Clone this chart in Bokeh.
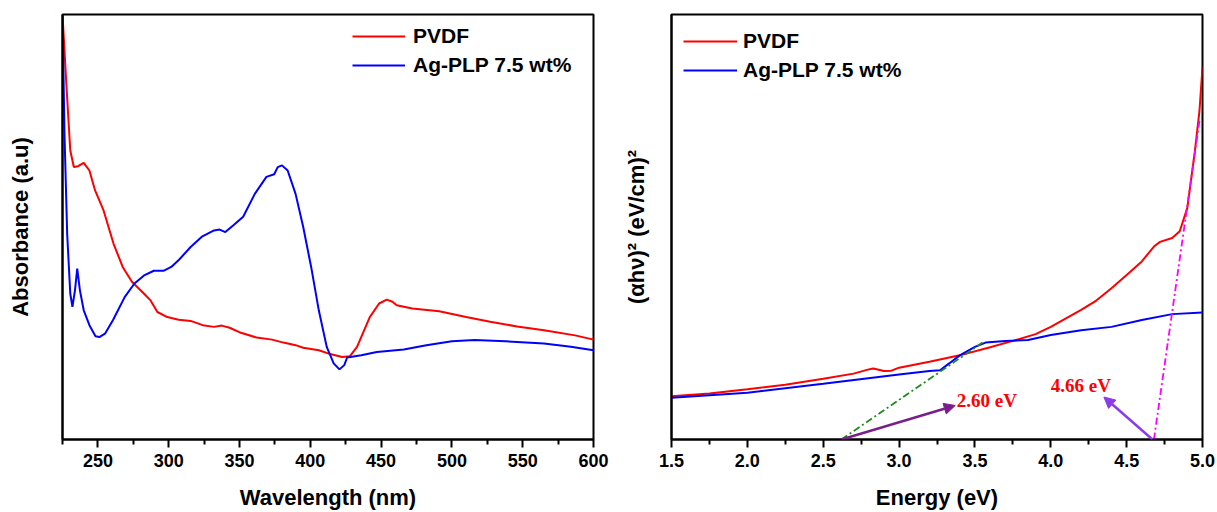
from bokeh.plotting import figure
from bokeh.layouts import row
from bokeh.models import (Range1d, Legend, LegendItem, Label, Arrow, NormalHead,
                          FixedTicker, ColumnDataSource)
from bokeh.embed import file_html
from bokeh.resources import INLINE
from bokeh.core.properties import value

# ---------------- Panel a: UV-Vis absorbance ----------------
wl_pvdf = [225, 227.7, 230.5, 233, 236, 240, 244, 248, 254, 261, 267.5, 274, 282.6, 287,
           292, 299, 307, 315.5, 324, 332, 337.5, 343, 351, 362, 373, 381, 389.6, 395,
           406, 414, 422.5, 428, 433, 442, 448.6, 454, 458, 461, 472, 491, 510, 527,
           546, 565, 587, 600]
abs_pvdf = [1.000, 0.837, 0.680, 0.641, 0.643, 0.651, 0.633, 0.586, 0.539, 0.461, 0.406,
            0.371, 0.343, 0.328, 0.300, 0.288, 0.282, 0.279, 0.269, 0.265, 0.268, 0.263,
            0.251, 0.240, 0.235, 0.228, 0.222, 0.216, 0.210, 0.201, 0.194, 0.196, 0.218,
            0.288, 0.320, 0.329, 0.324, 0.316, 0.308, 0.302, 0.288, 0.277, 0.266, 0.257,
            0.245, 0.235]

wl_ag = [225, 226.4, 228.3, 230.5, 232, 233.8, 235.4, 237.3, 240, 244, 248.3, 251, 255,
         260.7, 268.9, 275.8, 282.6, 289.5, 296.3, 301.8, 307.3, 315.5, 323.8, 332, 336,
         340, 345.7, 352.6, 360.8, 369, 374.5, 377, 380, 384, 389.6, 395, 400.6, 406,
         411.6, 416.5, 420.6, 424, 426, 436, 447, 466, 482, 500, 516, 538, 565, 584, 600]
abs_ag = [1.000, 0.719, 0.484, 0.343, 0.312, 0.351, 0.402, 0.351, 0.304, 0.269, 0.243,
          0.241, 0.249, 0.281, 0.335, 0.367, 0.386, 0.397, 0.397, 0.406, 0.423, 0.453,
          0.478, 0.492, 0.494, 0.488, 0.504, 0.524, 0.578, 0.618, 0.624, 0.641, 0.645,
          0.633, 0.578, 0.500, 0.406, 0.304, 0.218, 0.179, 0.165, 0.175, 0.193, 0.198,
          0.206, 0.212, 0.222, 0.231, 0.234, 0.231, 0.226, 0.218, 0.210]

wl_ticks = [250, 300, 350, 400, 450, 500, 550, 600]
wl_minor = [225, 275, 325, 375, 425, 475, 525, 575]

# ---------------- Panel b: Tauc plot ----------------
e_pvdf = [1.5, 1.75, 2.0, 2.25, 2.5, 2.7, 2.8, 2.83, 2.9, 2.95, 3.0, 3.2, 3.4, 3.6, 3.75,
          3.9, 4.0, 4.1, 4.2, 4.3, 4.4, 4.5, 4.6, 4.68, 4.72, 4.8, 4.85, 4.9, 4.95, 4.98, 5.0]
t_pvdf = [0.102, 0.108, 0.118, 0.129, 0.143, 0.155, 0.165, 0.167, 0.161, 0.162, 0.169,
          0.183, 0.198, 0.217, 0.232, 0.248, 0.265, 0.285, 0.305, 0.327, 0.356, 0.387,
          0.419, 0.454, 0.465, 0.474, 0.490, 0.545, 0.679, 0.773, 0.876]

e_ag = [1.5, 2.0, 2.5, 3.0, 3.2, 3.27, 3.33, 3.4, 3.5, 3.57, 3.7, 3.85, 4.0, 4.2, 4.4,
        4.6, 4.8, 5.0]
t_ag = [0.098, 0.110, 0.131, 0.153, 0.161, 0.163, 0.179, 0.198, 0.218, 0.228, 0.232,
        0.234, 0.246, 0.257, 0.265, 0.281, 0.295, 0.299]

e_ticks = [1.5, 2.0, 2.5, 3.0, 3.5, 4.0, 4.5, 5.0]
e_minor = [1.75, 2.25, 2.75, 3.25, 3.75, 4.25, 4.75]
e_tick_labels = {1.5: "1.5", 2.0: "2.0", 2.5: "2.5", 3.0: "3.0", 3.5: "3.5",
                 4.0: "4.0", 4.5: "4.5", 5.0: "5.0"}

# Tauc extrapolation lines
fit_ag_x = [2.62, 3.55]
fit_ag_y = [0.0, 0.228]
fit_pvdf_x = [4.68, 4.98]
fit_pvdf_y = [0.0, 0.75]

# Band-gap annotations
gap_text = ["2.60 eV", "4.66 eV"]
gap_text_x = [3.38, 4.0]
gap_text_y = [0.092, 0.127]
arrow_x0 = [2.62, 4.67]
arrow_y0 = [0.0, 0.0]
arrow_x1 = [3.37, 4.35]
arrow_y1 = [0.080, 0.100]
arrow_colors = ["#7A1E8C", "#8A3BEA"]

SANS = "Liberation Sans"
SERIF = "Liberation Serif"
RED = "#FF0000"
BLUE = "#0000FF"


def style(p, xlabel, ylabel, ticks, minor, ylabel_standoff):
    p.grid.visible = False
    p.outline_line_color = "black"
    p.outline_line_width = 2
    p.outline_line_alpha = 1.0
    p.background_fill_color = "white"
    p.border_fill_color = "white"

    xa = p.xaxis[0]
    xa.axis_label = xlabel
    xa.ticker = FixedTicker(ticks=ticks, minor_ticks=minor)
    xa.axis_line_width = 2
    xa.major_tick_line_width = 2
    xa.minor_tick_line_width = 2
    xa.major_tick_out = 8
    xa.major_tick_in = 0
    xa.minor_tick_out = 5
    xa.minor_tick_in = 0
    xa.major_label_standoff = 6
    xa.major_label_text_font = SANS
    xa.major_label_text_font_style = "bold"
    xa.major_label_text_font_size = "18px"
    xa.major_label_text_color = "black"
    xa.axis_label_text_font = SANS
    xa.axis_label_text_font_style = "bold"
    xa.axis_label_text_font_size = "22px"
    xa.axis_label_text_color = "black"
    xa.axis_label_standoff = 15

    ya = p.yaxis[0]
    ya.axis_label = ylabel
    ya.ticker = FixedTicker(ticks=[])
    ya.axis_line_width = 2
    ya.major_tick_out = 0
    ya.minor_tick_out = 0
    ya.major_label_text_font_size = "0px"
    ya.major_label_standoff = 0
    ya.axis_label_text_font = SANS
    ya.axis_label_text_font_style = "bold"
    ya.axis_label_text_font_size = "22px"
    ya.axis_label_text_color = "black"
    ya.axis_label_standoff = ylabel_standoff


def make_legend(p, items, loc, glyph_w, standoff, spacing):
    lg = Legend(items=items, location=loc, orientation="vertical")
    lg.border_line_color = None
    lg.background_fill_alpha = 0
    lg.padding = 0
    lg.margin = 0
    lg.glyph_width = glyph_w
    lg.glyph_height = 24
    lg.label_height = 24
    lg.spacing = spacing
    lg.label_standoff = standoff
    lg.label_text_font = SANS
    lg.label_text_font_style = "bold"
    lg.label_text_font_size = "21px"
    lg.label_text_color = "black"
    lg.label_text_baseline = "middle"
    p.add_layout(lg)


# ---------------- Figure a ----------------
pa = figure(width=610, height=512, output_backend="svg", toolbar_location=None,
            x_range=Range1d(225, 600), y_range=Range1d(0, 1))
pa.min_border_left = 62
pa.min_border_right = 17
pa.min_border_top = 14
pa.min_border_bottom = 73
style(pa, "Wavelength (nm)", "Absorbance (a.u)", wl_ticks, wl_minor, 30)

ra1 = pa.line(wl_pvdf, abs_pvdf, line_color=RED, line_width=2)
ra2 = pa.line(wl_ag, abs_ag, line_color=BLUE, line_width=2)
make_legend(pa, [LegendItem(label="PVDF", renderers=[ra1]),
                 LegendItem(label="Ag-PLP 7.5 wt%", renderers=[ra2])],
            (290, 362), 53, 8, 5)

pa.add_layout(Label(x=193.2, y=0.969, text="a)", text_font=SANS, text_font_style="bold",
                    text_font_size="20px", text_baseline="middle", text_color="black"))

# ---------------- Figure b ----------------
pb = figure(width=607, height=512, output_backend="svg", toolbar_location=None,
            x_range=Range1d(1.5, 5.0), y_range=Range1d(0, 1))
pb.min_border_left = 61
pb.min_border_right = 15
pb.min_border_top = 14
pb.min_border_bottom = 73
style(pb, "Energy (eV)", "(\u03b1h\u03bd)\u00b2 (eV/cm)\u00b2", e_ticks, e_minor, 23)
pb.xaxis[0].major_label_overrides = e_tick_labels

rb1 = pb.line(e_pvdf, t_pvdf, line_color=RED, line_width=2)
rb2 = pb.line(e_ag, t_ag, line_color=BLUE, line_width=2)
pb.line(fit_ag_x, fit_ag_y, line_color="#1E8C1E", line_width=1.8, line_dash="7 3 2 3")
pb.line(fit_pvdf_x, fit_pvdf_y, line_color="#FF00FF", line_width=1.8, line_dash="7 3 2 3")

for i in range(2):
    pb.add_layout(Arrow(end=NormalHead(size=11, fill_color=arrow_colors[i],
                                       line_color=arrow_colors[i]),
                        x_start=arrow_x0[i], y_start=arrow_y0[i],
                        x_end=arrow_x1[i], y_end=arrow_y1[i],
                        line_color=arrow_colors[i], line_width=2.5))

src = ColumnDataSource(dict(x=gap_text_x, y=gap_text_y, t=gap_text))
pb.text(x="x", y="y", text="t", source=src, text_font=value(SERIF),
        text_font_style="bold", text_font_size="19px", text_color=RED,
        text_baseline="middle", text_align="left")

make_legend(pb, [LegendItem(label="PVDF", renderers=[rb1]),
                 LegendItem(label="Ag-PLP 7.5 wt%", renderers=[rb2])],
            (12, 357), 54, 6, 5)

pb.add_layout(Label(x=1.184, y=0.969, text="b)", text_font=SANS, text_font_style="bold",
                    text_font_size="20px", text_baseline="middle", text_color="black"))

lay = row(pa, pb)
open("out.html", "w").write(file_html(lay, INLINE))
